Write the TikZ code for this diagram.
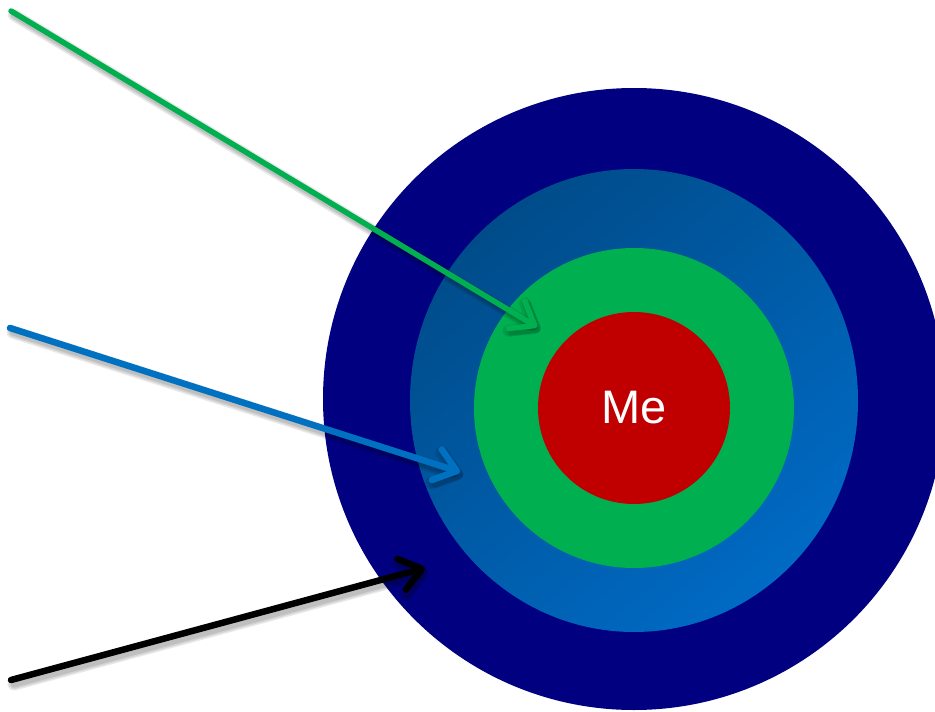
\documentclass[tikz,border=0pt]{standalone}
\usepackage{fontspec}
\setmainfont{Liberation Sans}
\usetikzlibrary{arrows.meta,shapes.geometric}
\definecolor{navyring}{HTML}{000080}
\definecolor{blueA}{HTML}{004C8A}
\definecolor{blueB}{HTML}{006AC4}
\definecolor{greenring}{HTML}{00B050}
\definecolor{redcore}{HTML}{C00000}
\definecolor{arrowblue}{HTML}{0070C0}
\definecolor{arrowgreen}{HTML}{00B050}
\tikzset{
  ring/.style={inner sep=0pt, outer sep=0pt, draw=none},
  barb/.style={-{Straight Barb[length=21pt, width=32pt, line cap=round, line join=round]}, line cap=round, line join=round},
  shadowline/.style={barb, draw=black, opacity=0.09},
}
\begin{document}
\begin{tikzpicture}[x=1pt, y=-1pt]
\useasboundingbox (0,0) rectangle (935,712);
\clip (0,0) rectangle (935,712);
\fill[white] (0,0) rectangle (935,712);
% rings
\node[ring, circle, fill=navyring, minimum size=622pt] (outer) at (634,399) {};
\node[ring, ellipse, minimum width=448pt, minimum height=463pt,
      top color=blueA, bottom color=blueB, shading angle=40] (blue) at (634,400.5) {};
\node[ring, circle, fill=greenring, minimum size=320pt] (green) at (634,408) {};
\node[ring, circle, fill=redcore, minimum size=192pt, text=white,
      font=\fontsize{47}{50}\selectfont] (me) at (634,408) {Me};
% arrow end points
\coordinate (gs) at (11,11);
\coordinate (ge) at (537,327);
\coordinate (bs) at (10,328);
\coordinate (be) at (460,472);
\coordinate (ks) at (11,680);
\coordinate (ke) at (425,568);
% soft shadows
\foreach \w in {6,9,12} {
  \draw[shadowline, line width=\w pt] ([shift={(3,4)}]gs) -- ([shift={(3,4)}]ge);
  \draw[shadowline, line width=\w pt+1pt] ([shift={(3,4)}]bs) -- ([shift={(3,4)}]be);
  \draw[shadowline, line width=\w pt+1pt] ([shift={(3,4)}]ks) -- ([shift={(3,4)}]ke);
}
% arrows
\draw[barb, draw=arrowgreen, line width=5.5pt] (gs) -- (ge);
\draw[barb, draw=arrowblue, line width=6.5pt] (bs) -- (be);
\draw[barb, draw=black, line width=6.5pt] (ks) -- (ke);
\end{tikzpicture}
\end{document}
